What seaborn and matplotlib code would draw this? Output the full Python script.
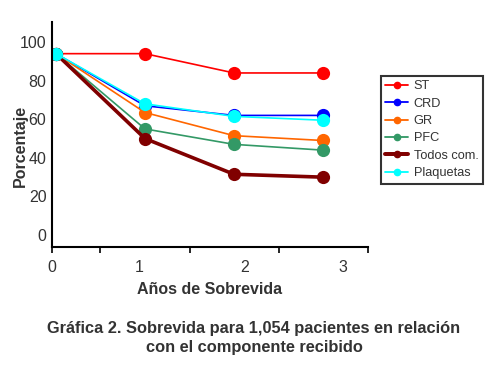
import numpy as np
import pandas as pd
import matplotlib.pyplot as plt
import seaborn as sns
from matplotlib.lines import Line2D

# data
years = [0, 1, 2, 3]
st = [94, 94, 84, 84]
crd = [94, 67, 62, 62]
gr = [94, 63.5, 51.5, 49]
pfc = [94, 55, 47, 44]
todos = [94, 50, 31.5, 30]
plaquetas = [94, 68, 61.5, 59.5]

series = ['ST', 'CRD', 'GR', 'PFC', 'Todos com.', 'Plaquetas']
values = [st, crd, gr, pfc, todos, plaquetas]
colors = ['#ff0000', '#0000ff', '#ff6600', '#339966', '#800000', '#00ffff']
widths = [1.2, 1.2, 1.2, 1.2, 2.6, 1.2]

df = pd.DataFrame({
    'year': years * len(series),
    'pct': [v for vals in values for v in vals],
    'comp': [s for s in series for _ in years],
})

sns.set_style('white')
plt.rcParams['font.family'] = ['Liberation Sans', 'DejaVu Sans']

fig = plt.figure(figsize=(4.98, 3.70), dpi=100)
ax = fig.add_axes([0.1044, 0.3324, 0.6345, 0.6081])

for s, c, w in zip(series, colors, widths):
    sns.lineplot(data=df[df.comp == s], x='year', y='pct', color=c,
                 linewidth=w, marker='o', markersize=9.5,
                 markeredgewidth=0, ax=ax, legend=False)

ax.set_xlim(-0.045, 3.506)
ax.set_ylim(-6.2, 110.4)

# tick marks and labels sit apart in the original
ax.xaxis.remove_overlapping_locs = False
ax.set_xticks([-0.045, 0.494, 1.506, 2.506, 3.506])
ax.set_xticklabels([])
ax.set_xticks([-0.045, 0.94, 2.12, 3.22], minor=True)
ax.set_xticklabels(['0', '1', '2', '3'], minor=True)
ax.tick_params(axis='x', which='major', direction='out', length=4, width=1.2, color='black', bottom=True)
ax.tick_params(axis='x', which='minor', length=0, pad=9, labelsize=11.5, labelcolor='#333333')
ax.set_yticks([0, 20, 40, 60, 80, 100])
ax.tick_params(axis='y', length=0, pad=4, labelsize=11.5, labelcolor='#333333')

for side in ['top', 'right']:
    ax.spines[side].set_visible(False)
for side in ['left', 'bottom']:
    ax.spines[side].set_color('black')
    ax.spines[side].set_linewidth(1.5)

ax.set_xlabel('Años de Sobrevida', fontsize=11.5, fontweight='bold', color='#333333')
ax.set_ylabel('Porcentaje', fontsize=11.5, fontweight='bold', color='#333333')
ax.xaxis.set_label_coords(0.5, -0.187)
ax.yaxis.set_label_coords(-0.101, 0.45)
ax.xaxis.label.set_va('center')
ax.yaxis.label.set_va('center')

handles = [Line2D([0], [0], color=c, linewidth=w * 1.1, marker='o', markersize=4.5)
           for c, w in zip(colors, widths)]
leg = fig.legend(handles, series, loc='upper left', bbox_to_anchor=(0.765, 0.795),
                 frameon=True, fancybox=False, fontsize=9.2, handlelength=1.8,
                 handletextpad=0.4, labelspacing=0.42, borderpad=0.35, borderaxespad=0)
leg.get_frame().set_edgecolor('black')
leg.get_frame().set_linewidth(1.5)
for t in leg.get_texts():
    t.set_color('#333333')

fig.text(0.51, 0.0865, 'Gráfica 2. Sobrevida para 1,054 pacientes en relación\ncon el componente recibido',
         ha='center', va='center', fontsize=11.8, fontweight='bold', color='#333333', linespacing=1.3)

fig.savefig('out.png', dpi=100)
